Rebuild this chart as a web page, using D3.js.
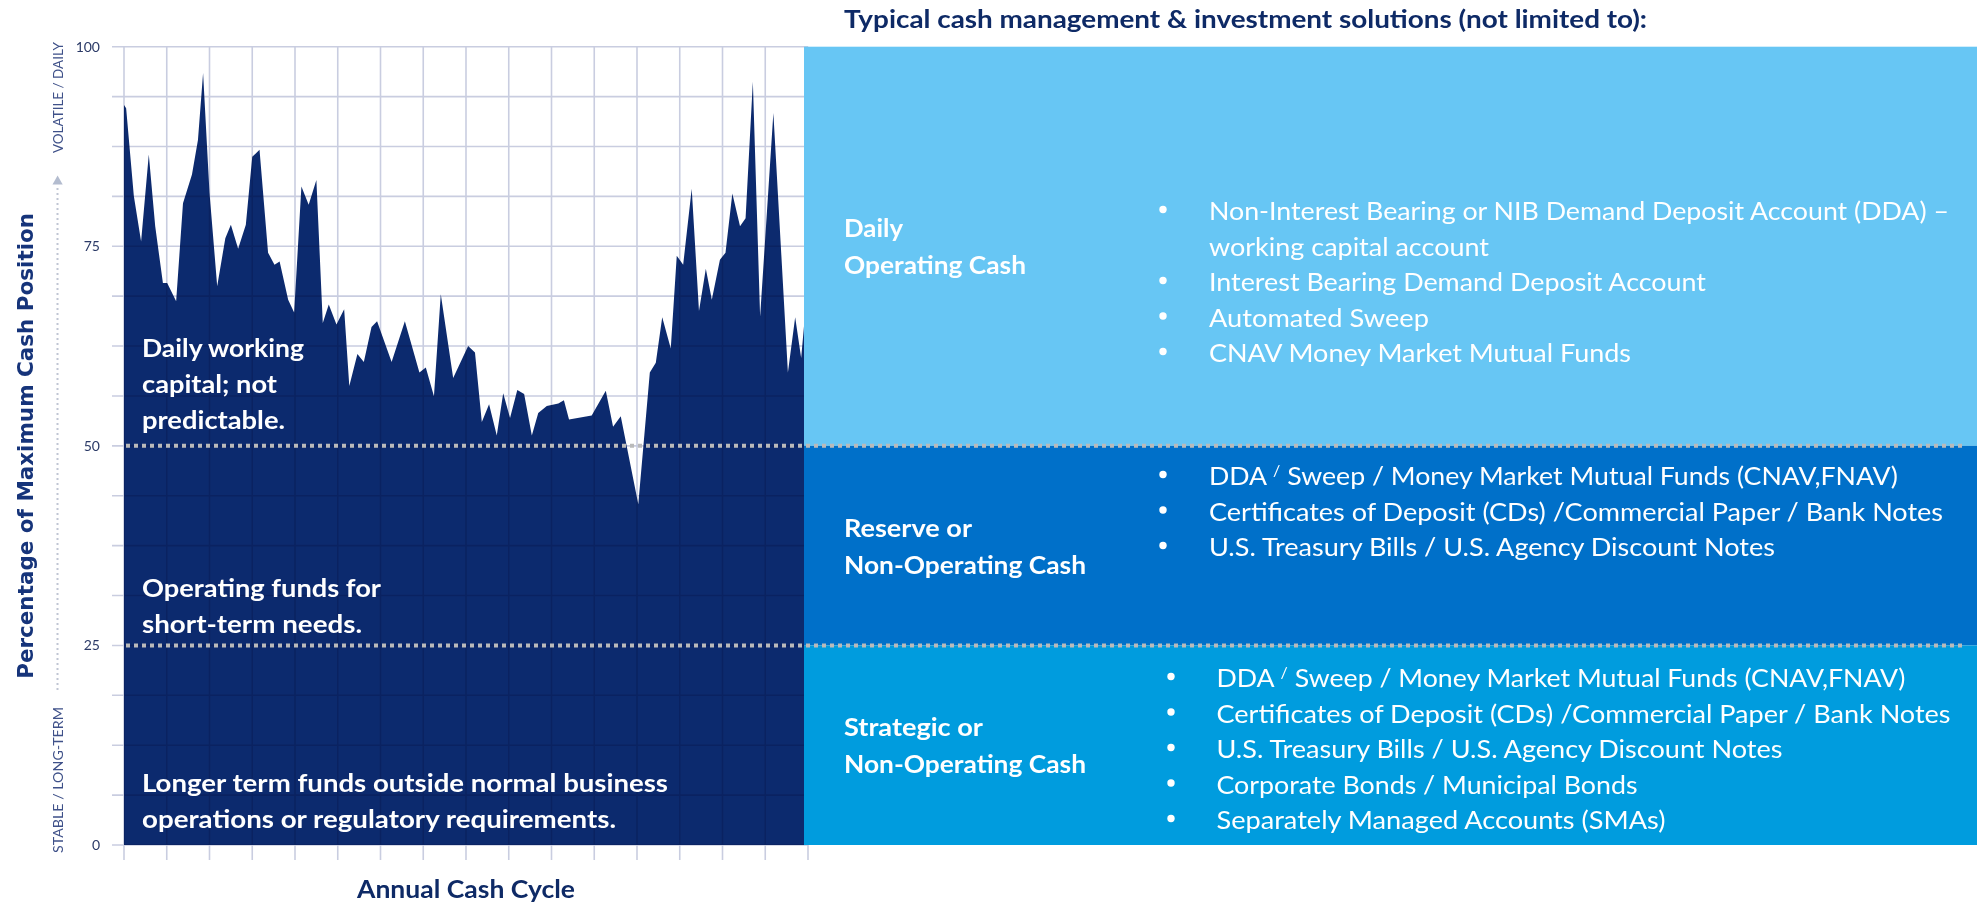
<!DOCTYPE html>
<html>
<head>
<meta charset="utf-8">
<script src="https://cdn.jsdelivr.net/npm/d3@7"></script>
<style>
  html, body { margin: 0; padding: 0; background: #fff; }
  svg { display: block; }
  text { font-family: Lato, "Open Sans", sans-serif; }
</style>
</head>
<body>
<svg id="chart" width="1981" height="904"></svg>
<script>
// position in the annual cycle (0-160) and cash position (% of maximum)
const cyclePos = [0, 0.5, 2.3, 4.0, 5.8, 7.3, 9.1, 10.1, 12.2, 13.8, 15.9, 17.3, 18.5, 20.0, 21.8, 23.7, 25.0, 26.7, 28.5, 30.0,
  31.7, 33.7, 35.2, 36.4, 38.4, 39.8, 41.5, 43.2, 45.0, 46.5, 47.9, 49.7, 51.5, 52.7, 54.6, 56.1, 57.9, 59.2, 62.6, 65.7,
  69.1, 70.6, 72.5, 74.1, 77.0, 80.5, 82.1, 83.7, 85.4, 87.2, 88.7, 90.3, 92.0, 93.6, 95.4, 96.9, 98.9, 101.6, 102.9, 104.1,
  109.4, 112.7, 114.4, 116.2, 120.3, 123.0, 124.4, 125.9, 127.9, 129.3, 130.8, 132.8, 134.5, 136.1, 137.5, 139.4, 140.7, 142.3, 144.1, 145.4,
  147.1, 148.8, 151.9, 155.3, 157.0, 158.4, 159.1];
const cashPct = [92.7, 92.3, 81.3, 75.6, 86.5, 77.5, 70.4, 70.4, 68.1, 80.4, 84.0, 88.3, 96.7, 81.7, 70.0, 76.0, 77.7, 74.7, 77.7, 86.2,
  87.1, 74.2, 72.7, 73.1, 68.3, 66.7, 82.5, 80.2, 83.3, 65.4, 67.7, 65.2, 67.1, 57.5, 61.5, 60.5, 64.9, 65.6, 60.5, 65.6,
  59.2, 59.8, 56.2, 69.0, 58.5, 62.5, 61.7, 53.0, 55.2, 51.3, 56.6, 53.5, 57.0, 56.5, 51.3, 54.1, 55.0, 55.3, 55.7, 53.3,
  53.8, 56.9, 52.4, 53.7, 42.7, 59.2, 60.4, 66.1, 62.2, 73.8, 72.7, 82.2, 66.9, 72.2, 68.3, 73.3, 74.2, 81.6, 77.5, 78.5,
  95.6, 66.2, 91.7, 59.2, 66.1, 61.0, 65.2];

const yTickLabels = [0, 25, 50, 75, 100];
const bandRanges = [[50, 100], [25, 50], [0, 25]];
const bandNames = [["Daily", "Operating Cash"], ["Reserve or", "Non-Operating Cash"], ["Strategic or", "Non-Operating Cash"]];
const bandNotes = [
  ["Daily working", "capital; not", "predictable."],
  ["Operating funds for", "short-term needs."],
  ["Longer term funds outside normal business", "operations or regulatory requirements."]
];
const dailySolutions = [
  ["Non-Interest Bearing or NIB Demand Deposit Account (DDA) –", "working capital account"],
  ["Interest Bearing Demand Deposit Account"],
  ["Automated Sweep"],
  ["CNAV Money Market Mutual Funds"]
];
const reserveSolutions = [
  ["DDA / Sweep / Money Market Mutual Funds (CNAV,FNAV)"],
  ["Certificates of Deposit (CDs) /Commercial Paper / Bank Notes"],
  ["U.S. Treasury Bills / U.S. Agency Discount Notes"]
];
const strategicSolutions = [
  ["DDA / Sweep / Money Market Mutual Funds (CNAV,FNAV)"],
  ["Certificates of Deposit (CDs) /Commercial Paper / Bank Notes"],
  ["U.S. Treasury Bills / U.S. Agency Discount Notes"],
  ["Corporate Bonds / Municipal Bonds"],
  ["Separately Managed Accounts (SMAs)"]
];
const titleText = "Typical cash management & investment solutions (not limited to):";
const xTitle = "Annual Cash Cycle";
const yTitle = "Percentage of Maximum Cash Position";

// ---- layout / style ----
const navy = "#0c2a6e";
const bandColors = ["#67c6f4", "#0070c9", "#009cde"];
const gridColor = "#c9cde0";
// measured widths of the text lines in the reference
const lineWidth = {
  "Non-Interest Bearing or NIB Demand Deposit Account (DDA) –": 740,
  "working capital account": 280,
  "Interest Bearing Demand Deposit Account": 497,
  "Automated Sweep": 220,
  "CNAV Money Market Mutual Funds": 422,
  "DDA / Sweep / Money Market Mutual Funds (CNAV,FNAV)": 689,
  "Certificates of Deposit (CDs) /Commercial Paper / Bank Notes": 734,
  "U.S. Treasury Bills / U.S. Agency Discount Notes": 566,
  "Corporate Bonds / Municipal Bonds": 421,
  "Separately Managed Accounts (SMAs)": 449,
  "Daily": 59, "Operating Cash": 182, "Reserve or": 128, "Non-Operating Cash": 242, "Strategic or": 139,
  "Daily working": 162, "capital; not": 135, "predictable.": 143,
  "Operating funds for": 239, "short-term needs.": 220,
  "Longer term funds outside normal business": 526, "operations or regulatory requirements.": 474
};

const svg = d3.select("#chart");
const x = d3.scaleLinear().domain([0, 160]).range([124, 808]);
const y = d3.scaleLinear().domain([0, 100]).range([845, 46.7]);
const panelX0 = 804, panelX1 = 1977;

const data = cyclePos.map((t, i) => ({ t, v: cashPct[i] }));

// cash position area
svg.append("path")
  .datum(data)
  .attr("fill", navy)
  .attr("d", d3.area().x(d => x(d.t)).y0(y(0)).y1(d => y(d.v)));

// grid (multiplied so it shows darker over the area)
const grid = svg.append("g").style("mix-blend-mode", "multiply");
grid.selectAll("line.h")
  .data(d3.range(0, 100.001, 6.25))
  .join("line")
  .attr("class", "h")
  .attr("x1", 112).attr("x2", x(160))
  .attr("y1", d => y(d)).attr("y2", d => y(d))
  .attr("stroke", gridColor).attr("stroke-width", 1.6);
grid.selectAll("line.v")
  .data(d3.range(0, 160.001, 10))
  .join("line")
  .attr("class", "v")
  .attr("x1", d => x(d)).attr("x2", d => x(d))
  .attr("y1", y(100)).attr("y2", y(0) + 15)
  .attr("stroke", gridColor).attr("stroke-width", 1.6);

// y tick labels
svg.append("g")
  .selectAll("text")
  .data(yTickLabels)
  .join("text")
  .attr("x", 100)
  .attr("y", d => y(d))
  .attr("dy", "0.36em")
  .attr("text-anchor", "end")
  .attr("font-size", 14)
  .attr("fill", "#2b3a67")
  .text(d => d);

// solution panels
svg.append("g")
  .selectAll("rect")
  .data(bandRanges)
  .join("rect")
  .attr("x", panelX0)
  .attr("width", panelX1 - panelX0)
  .attr("y", d => y(d[1]))
  .attr("height", d => y(d[0]) - y(d[1]))
  .attr("fill", (d, i) => bandColors[i]);

// dotted band dividers
svg.append("g")
  .selectAll("line")
  .data([50, 25])
  .join("line")
  .attr("x1", 126).attr("x2", 1962)
  .attr("y1", d => y(d)).attr("y2", d => y(d))
  .attr("stroke", "#bababa")
  .attr("stroke-width", 4)
  .attr("stroke-dasharray", "4 4");

function fitText(sel, s) {
  if (lineWidth[s]) sel.attr("textLength", lineWidth[s]).attr("lengthAdjust", "spacingAndGlyphs");
  return sel;
}

function writeLine(g, s, xPos, yPos, opts) {
  const t = g.append("text")
    .attr("x", xPos).attr("y", yPos)
    .attr("fill", opts.fill || "#fff")
    .attr("font-size", opts.size)
    .attr("font-weight", opts.weight || 400);
  if (s.startsWith("DDA / ")) {
    // small raised slash after DDA
    t.append("tspan").text("DDA ");
    t.append("tspan").attr("font-size", 15).attr("dy", -9).text("/");
    t.append("tspan").attr("dy", 9).text(s.slice(5));
  } else {
    t.text(s);
  }
  fitText(t, s);
  return t;
}

// notes inside the plot
const noteBaselines = [[357, 393, 429], [597, 633], [792, 828]];
bandNotes.forEach((lines, b) => {
  lines.forEach((s, i) => writeLine(svg, s, 142, noteBaselines[b][i], { size: 24, weight: 700 }));
});

// band names in the panels
bandRanges.forEach((r, b) => {
  const mid = (y(r[0]) + y(r[1])) / 2;
  bandNames[b].forEach((s, i) => writeLine(svg, s, 844, mid - 9 + i * 37, { size: 24, weight: 700 }));
});

// bullet lists
const lists = [
  { items: dailySolutions, first: 220, bx: 1163, tx: 1209 },
  { items: reserveSolutions, first: 485, bx: 1163, tx: 1209 },
  { items: strategicSolutions, first: 687, bx: 1171, tx: 1216.5 }
];
const gap = 35.5;
lists.forEach(l => {
  const g = svg.append("g");
  let row = 0;
  l.items.forEach(lines => {
    g.append("circle")
      .attr("cx", l.bx)
      .attr("cy", l.first + row * gap - 10.5)
      .attr("r", 3.7)
      .attr("fill", "#fff");
    lines.forEach(s => {
      writeLine(g, s, l.tx, l.first + row * gap, { size: 25 });
      row++;
    });
  });
});

// panel title
svg.append("text")
  .attr("x", 844).attr("y", 28.3)
  .attr("font-size", 24).attr("font-weight", 700)
  .attr("fill", "#0e2a66")
  .attr("textLength", 803).attr("lengthAdjust", "spacingAndGlyphs")
  .text(titleText);

// x axis title
svg.append("text")
  .attr("x", (x(0) + x(160)) / 2).attr("y", 898)
  .attr("text-anchor", "middle")
  .attr("font-size", 24).attr("font-weight", 700)
  .attr("fill", "#0e2a66")
  .attr("textLength", 218).attr("lengthAdjust", "spacingAndGlyphs")
  .text(xTitle);

// y axis title
svg.append("text")
  .attr("transform", `translate(32.5,${(y(0) + y(100)) / 2}) rotate(-90)`)
  .attr("text-anchor", "middle")
  .style("font-family", "'DejaVu Sans', sans-serif")
  .attr("font-size", 21.5).attr("font-weight", 700)
  .attr("fill", "#16347a")
  .attr("textLength", 466).attr("lengthAdjust", "spacingAndGlyphs")
  .text(yTitle);

// volatile / stable scale on the left
const side = svg.append("g").attr("fill", "#3f5189");
side.append("text")
  .attr("transform", "translate(63,153) rotate(-90)")
  .attr("font-size", 13)
  .attr("textLength", 111).attr("lengthAdjust", "spacingAndGlyphs")
  .text("VOLATILE / DAILY");
side.append("text")
  .attr("transform", "translate(63,853) rotate(-90)")
  .attr("font-size", 13)
  .attr("textLength", 146).attr("lengthAdjust", "spacingAndGlyphs")
  .text("STABLE / LONG-TERM");
svg.append("path")
  .attr("transform", "translate(57.6,181.5)")
  .attr("d", d3.symbol(d3.symbolTriangle, 45)())
  .attr("fill", "#b3bccf");
svg.append("line")
  .attr("x1", 57.5).attr("x2", 57.5)
  .attr("y1", 188).attr("y2", 692)
  .attr("stroke", "#c0c5d3")
  .attr("stroke-width", 2)
  .attr("stroke-dasharray", "2 3");
</script>
</body>
</html>
